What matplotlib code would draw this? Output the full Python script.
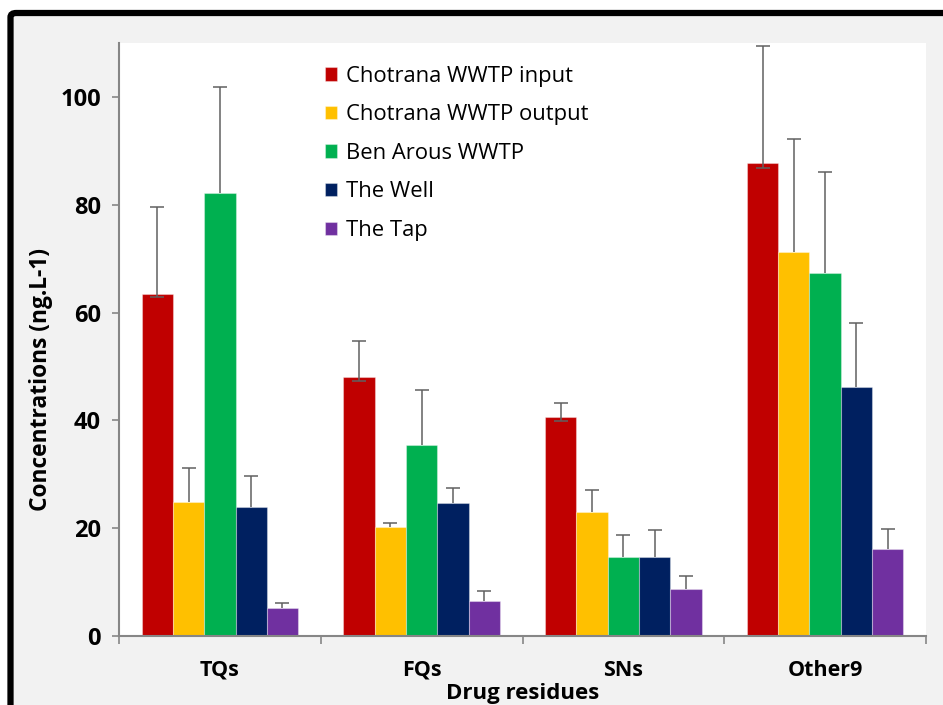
import numpy as np
import matplotlib
matplotlib.use("Agg")
import matplotlib.pyplot as plt
from matplotlib.patches import FancyBboxPatch

categories = ["TQs", "FQs", "SNs", "Other9"]
series = ["Chotrana WWTP input", "Chotrana WWTP output", "Ben Arous WWTP",
          "The Well", "The Tap"]
colors = ["#C00000", "#FFC000", "#00B050", "#002060", "#7030A0"]

# mean values per series (rows) for each category (columns)
values = [
    [63.5, 48.0, 40.6, 87.7],
    [24.8, 20.2, 23.0, 71.2],
    [82.2, 35.5, 14.7, 67.3],
    [24.0, 24.6, 14.7, 46.2],
    [5.2, 6.4, 8.8, 16.2],
]
# top of the error bar
err_top = [
    [79.5, 54.7, 43.2, 109.5],
    [31.1, 21.0, 27.1, 92.1],
    [101.8, 45.7, 18.8, 86.1],
    [29.7, 27.5, 19.7, 58.1],
    [6.2, 8.3, 11.2, 19.8],
]
# bottom of the error bar
err_bottom = [
    [62.8, 47.3, 39.8, 86.8],
    [24.8, 20.2, 23.0, 71.2],
    [82.2, 35.5, 14.7, 67.3],
    [24.0, 24.6, 14.7, 46.2],
    [5.2, 6.4, 8.8, 16.2],
]
yticks = [0, 20, 40, 60, 80, 100]

fig = plt.figure(figsize=(9.43, 7.05), dpi=100)
fig.patch.set_facecolor("white")

# outer frame (black border, grey fill), right/bottom run past the image
frame = FancyBboxPatch((10.5 / 943, -0.2), 1.2, 1.2 - 13 / 705,
                       boxstyle="round,pad=0,rounding_size=0.006",
                       transform=fig.transFigure, facecolor="#F2F2F2",
                       edgecolor="black", linewidth=4.5, zorder=-10)
fig.patches.append(frame)

ax = fig.add_axes([119 / 943, 1 - 636 / 705, (926 - 119) / 943, (636 - 43) / 705])
ax.set_zorder(5)
ax.set_facecolor("white")

font = "Open Sans"
x = np.arange(len(categories))
width = 0.155
offsets = (np.arange(len(series)) - 2) * width

for i, name in enumerate(series):
    v = np.array(values[i])
    lo = v - np.array(err_bottom[i])
    hi = np.array(err_top[i]) - v
    ax.bar(x + offsets[i], v, width, color=colors[i], label=name,
           edgecolor=(1, 1, 1, 0.35), linewidth=0.8, zorder=2)
    eb = ax.errorbar(x + offsets[i], v, yerr=[lo, hi], fmt="none",
                     ecolor="#606060", elinewidth=1.1, capsize=5,
                     capthick=1.1, zorder=3)
    if not np.any(lo > 0):
        eb[1][0].set_visible(False)  # no lower cap when there is no lower error

ax.set_xlim(-0.5, 3.5)
ax.set_ylim(0, 110)
ax.set_yticks(yticks)
ax.set_yticklabels([str(t) for t in yticks], fontsize=17, fontweight="bold",
                   family=font)
ax.set_xticks(x)
ax.set_xticklabels(categories, fontsize=15.5, fontweight="bold", family=font)
ax.set_xticks(np.arange(-0.5, 4.0, 1.0), minor=True)
ax.tick_params(axis="x", which="major", length=0, pad=17)
ax.tick_params(axis="x", which="minor", length=6, color="#868686", width=1.2)
ax.tick_params(axis="y", length=5, color="#868686", width=1.2, pad=8)

for s in ["top", "right"]:
    ax.spines[s].set_visible(False)
for s in ["left", "bottom"]:
    ax.spines[s].set_color("#868686")
    ax.spines[s].set_linewidth(1.5)

ax.set_ylabel("Concentrations (ng.L-1)", fontsize=16.4, fontweight="bold",
              family=font)
ax.yaxis.set_label_coords(-0.082, 0.433)
ax.set_xlabel("Drug residues", fontsize=16, fontweight="bold", family=font,
              labelpad=2)

leg = ax.legend(loc="upper left", bbox_to_anchor=(0.231, 0.995), frameon=False,
                prop={"family": font, "size": 15.8}, handlelength=0.55,
                handleheight=0.55, handletextpad=0.4, labelspacing=0.8)

fig.savefig("out.png", dpi=100)
